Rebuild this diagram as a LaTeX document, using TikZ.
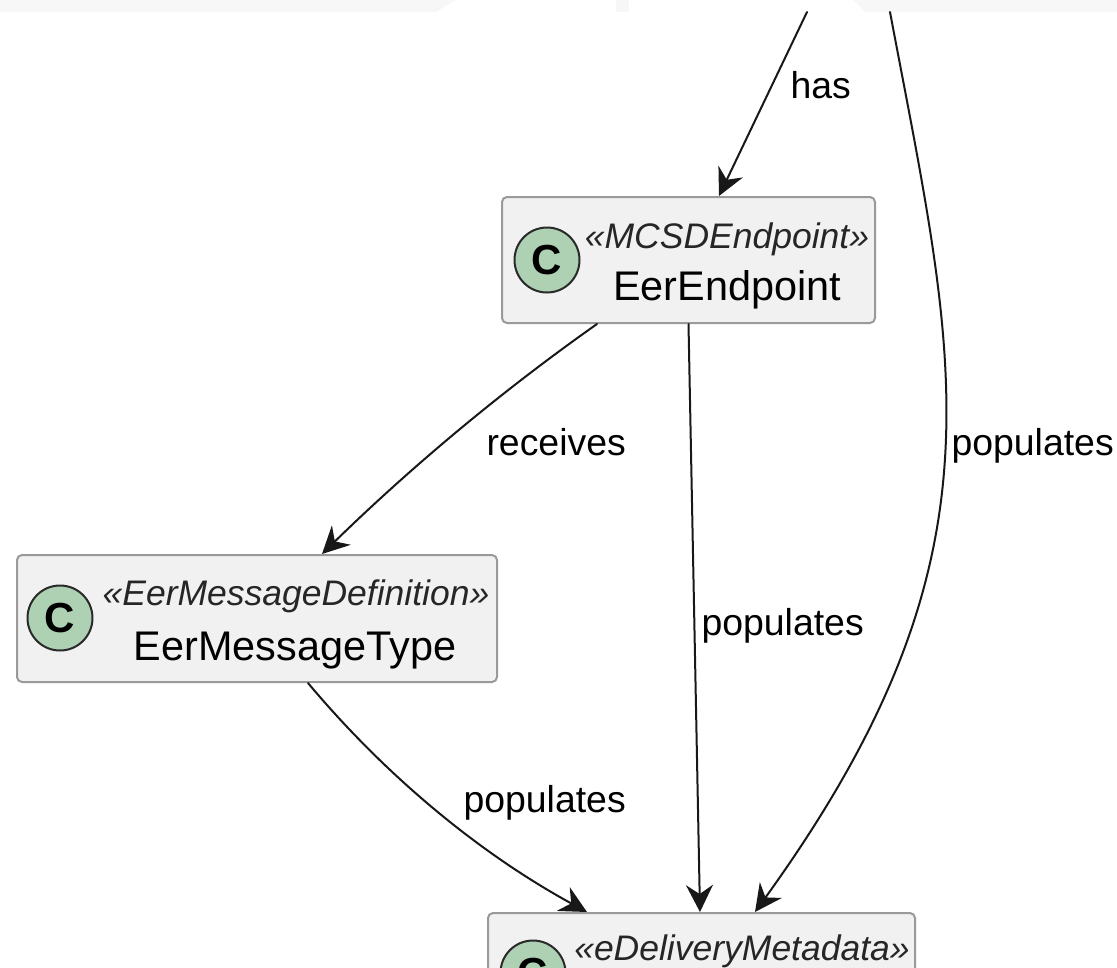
\documentclass[tikz,border=0pt]{standalone}
\usepackage{fontspec}
\setmainfont{Liberation Sans}
\usetikzlibrary{arrows.meta}

\definecolor{bandfill}{HTML}{F7F7F7}
\definecolor{boxfill}{HTML}{F1F1F1}
\definecolor{boxline}{HTML}{9A9A9A}
\definecolor{spotfill}{HTML}{ADD1B2}
\definecolor{spotline}{HTML}{2A2A2A}
\definecolor{linecol}{HTML}{181818}

\begin{document}
\begin{tikzpicture}[
	x=1pt, y=-1pt,
	line cap=round,
	line join=round,
	classbox/.style={draw=boxline, fill=boxfill, line width=2pt, rounded corners=5pt, inner sep=0pt},
	spot/.style={circle, draw=spotline, fill=spotfill, line width=2pt, minimum size=65pt, inner sep=0pt, font=\fontsize{42}{42}\selectfont\bfseries},
	stereo/.style={anchor=base, font=\fontsize{35.5}{40}\selectfont\itshape, text=black!85},
	cname/.style={anchor=base, font=\fontsize{41.4}{48}\selectfont},
	lbl/.style={anchor=base west, font=\fontsize{37.4}{44}\selectfont},
	link/.style={draw=linecol, line width=2pt, -{Stealth[length=27pt, width=27pt, inset=9pt]}}
	]
	
	\useasboundingbox (0,0) rectangle (1117,967);
	\clip (0,0) rectangle (1117,967);
	
	% band along the top edge
	\fill[bandfill] (0,0) -- (456,0) -- (436,12) -- (0,12) -- cycle;
	\fill[bandfill] (616,0) rectangle (629,12);
	\fill[bandfill] (853,0) -- (1117,0) -- (1117,12) -- (865,12) -- cycle;
	
	\coordinate (hasfrom) at (807,12);
	\coordinate (popfrom) at (890,12);
	
	\node[classbox, minimum width=373, minimum height=126] (endpoint) at (688.5,260) {};
	\node[spot] (endpointspot) at (547,260) {C};
	\node[stereo] (endpointst) at (727,248) {«MCSDEndpoint»};
	\node[cname] (endpointname) at (727,300) {EerEndpoint};
	
	\node[classbox, minimum width=480, minimum height=127] (msgtype) at (257,618.5) {};
	\node[spot] (msgtypespot) at (60,618) {C};
	\node[stereo] (msgtypest) at (296,605) {«EerMessageDefinition»};
	\node[cname] (msgtypename) at (295,660) {EerMessageType};
	
	\node[classbox, minimum width=427, minimum height=127] (metadata) at (701.5,976.5) {};
	\node[spot] (metadataspot) at (533,973) {C};
	\node[stereo] (metadatast) at (742,960) {«eDeliveryMetadata»};
	
	\draw[link] (hasfrom) -- ([xshift=30.5]endpoint.north);
	\draw[link] (popfrom) .. controls (957,367) and (1011,557) .. ([xshift=53.5]metadata.north);
	\draw[link] ([xshift=-91.5]endpoint.south) .. controls (499,393) and (408,470) .. ([xshift=65]msgtype.north);
	\draw[link] (endpoint.south) -- ([xshift=-1.5]metadata.north);
	\draw[link] ([xshift=51]msgtype.south) .. controls (386,776) and (479,853) .. ([xshift=-114.5]metadata.north);
	
	\node[lbl] (haslbl) at (787,98) {has};
	\node[lbl] (receiveslbl) at (483,455) {receives};
	\node[lbl] (poprightlbl) at (948,455) {populates};
	\node[lbl] (popmidlbl) at (698,635) {populates};
	\node[lbl] (popleftlbl) at (460,812) {populates};
	
\end{tikzpicture}
\end{document}
